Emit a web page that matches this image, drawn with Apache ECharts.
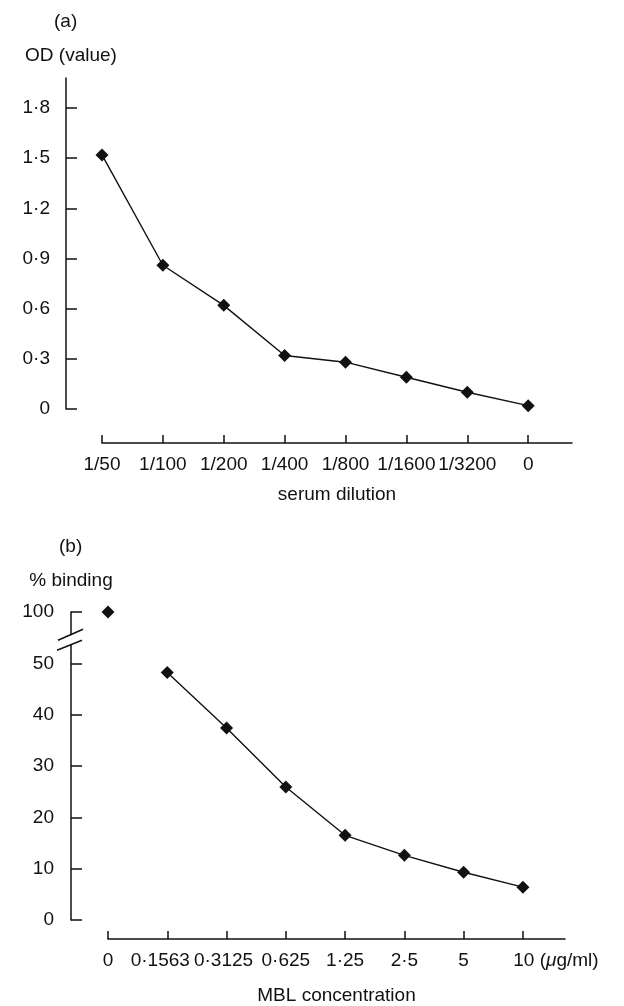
<!DOCTYPE html>
<html>
<head>
    <meta charset="UTF-8">
    <title>OD / % binding</title>
    <script src="https://cdn.jsdelivr.net/npm/echarts@6/dist/echarts.min.js"></script>
    <style>
        html, body {
            margin: 0;
            padding: 0;
            background: #fff;
        }

        #chartContainer {
            width: 624px;
            height: 1006px;
        }
    </style>
</head>
<body>
<div id="chartContainer"></div>
<script>
    // (a) OD against serum dilution
    var dilutionLabels = ['1/50', '1/100', '1/200', '1/400', '1/800', '1/1600', '1/3200', '0'];
    var odValues = [1.52, 0.86, 0.62, 0.32, 0.28, 0.19, 0.10, 0.02];
    var odTicks = [0, 0.3, 0.6, 0.9, 1.2, 1.5, 1.8];

    // (b) % binding against MBL concentration
    var mblLabels = ['0', '0·1563', '0·3125', '0·625', '1·25', '2·5', '5', '10'];
    var bindingControl = 100;          // at MBL 0, drawn above the axis break
    var bindingValues = [48.2, 37.4, 25.9, 16.5, 12.6, 9.3, 6.4];   // MBL 0·1563 .. 10
    var bindingTicks = [0, 10, 20, 30, 40, 50, 100];

    var FONT = 'Liberation Sans, Arial, sans-serif';
    var INK = '#111';
    var yOffsetA = 36, yOffsetB = 37;

    // values above the break (50..100) are moved down by 40 on the axis
    function toAxis(v) {
        return v > 50 ? v - 40 : v;
    }
    function fromAxis(v) {
        return v > 50 ? v + 40 : v;
    }
    function dot(v) {
        return String(v).replace('.', '·');
    }
    function idx(n) {
        var a = [];
        for (var i = 0; i < n; i++) a.push(i);
        return a;
    }

    var labelStyle = {color: INK, fontFamily: FONT, fontSize: 19};
    var txt = {color: INK, fontSize: 19, fontFamily: FONT};

    var myChart = echarts.init(document.getElementById('chartContainer'));
    var option = {
        animation: false,
        backgroundColor: '#fff',
        title: [
            {text: '(a)', left: 54, top: 12, padding: 0, textStyle: {color: INK, fontFamily: FONT, fontSize: 19, fontWeight: 'normal'}},
            {text: '(b)', left: 59, top: 537, padding: 0, textStyle: {color: INK, fontFamily: FONT, fontSize: 19, fontWeight: 'normal'}}
        ],
        grid: [
            {left: 102, right: 52, top: 78, bottom: 597},
            {left: 108, right: 59, top: 612, bottom: 84}
        ],
        xAxis: [
            {
                gridIndex: 0,
                type: 'value',
                min: 0,
                max: 7.72,
                offset: 34,
                name: 'serum dilution',
                nameLocation: 'middle',
                nameGap: 42,
                nameTextStyle: labelStyle,
                axisLine: {onZero: false, lineStyle: {color: INK, width: 1.5}},
                axisTick: {inside: true, length: 8, customValues: idx(dilutionLabels.length), lineStyle: {color: INK, width: 1.5}},
                axisLabel: {
                    customValues: idx(dilutionLabels.length),
                    margin: 12,
                    color: INK, fontFamily: FONT, fontSize: 19,
                    formatter: function (v) { return dilutionLabels[Math.round(v)]; }
                },
                splitLine: {show: false}
            },
            {
                gridIndex: 1,
                type: 'value',
                min: 0,
                max: 7.71,
                offset: 19,
                name: 'MBL concentration',
                nameLocation: 'middle',
                nameGap: 47,
                nameTextStyle: labelStyle,
                axisLine: {onZero: false, lineStyle: {color: INK, width: 1.5}},
                axisTick: {inside: true, length: 8, customValues: idx(mblLabels.length), lineStyle: {color: INK, width: 1.5}},
                axisLabel: {
                    customValues: idx(mblLabels.length),
                    margin: 12,
                    color: INK, fontFamily: FONT, fontSize: 19,
                    formatter: function (v) {
                        var i = Math.round(v);
                        if (i === mblLabels.length - 1) {
                            return '{pad| }{n|' + mblLabels[i] + '}{u| (}{mu|μ}{u|g/ml)}';
                        }
                        if (i === 1) return '{l1|' + mblLabels[i] + '}';
                        if (i === 2) return '{l2|' + mblLabels[i] + '}';
                        return mblLabels[i];
                    },
                    rich: {
                        pad: {width: 66, fontSize: 19, fontFamily: FONT},
                        n: txt,
                        u: txt,
                        mu: {color: INK, fontSize: 19, fontFamily: FONT, fontStyle: 'italic'},
                        l1: {color: INK, fontSize: 19, fontFamily: FONT, padding: [0, 14, 0, 0]},
                        l2: {color: INK, fontSize: 19, fontFamily: FONT, padding: [0, 6, 0, 0]}
                    }
                },
                splitLine: {show: false}
            }
        ],
        yAxis: [
            {
                gridIndex: 0,
                type: 'value',
                min: 0,
                max: 1.98,
                offset: yOffsetA,
                name: 'OD (value)',
                nameLocation: 'end',
                nameGap: 13,
                nameTextStyle: {color: INK, fontFamily: FONT, fontSize: 19, padding: [0, 0, 0, 10]},
                axisLine: {onZero: false, lineStyle: {color: INK, width: 1.5}},
                axisTick: {inside: true, length: 11, customValues: odTicks, lineStyle: {color: INK, width: 1.5}},
                axisLabel: {
                    customValues: odTicks,
                    margin: 16,
                    color: INK, fontFamily: FONT, fontSize: 19,
                    formatter: function (v) { return v === 0 ? '0' : dot(v.toFixed(1)); }
                },
                splitLine: {show: false}
            },
            {
                gridIndex: 1,
                type: 'value',
                min: 0,
                max: toAxis(100),
                offset: yOffsetB,
                name: '% binding',
                nameLocation: 'end',
                nameGap: 22,
                nameTextStyle: labelStyle,
                axisLine: {onZero: false, lineStyle: {color: INK, width: 1.5}},
                axisTick: {inside: true, length: 11, customValues: bindingTicks.map(toAxis), lineStyle: {color: INK, width: 1.5}},
                axisLabel: {
                    customValues: bindingTicks.map(toAxis),
                    margin: 17,
                    color: INK, fontFamily: FONT, fontSize: 19,
                    formatter: function (v) { return String(fromAxis(v)); }
                },
                splitLine: {show: false}
            }
        ],
        series: [
            {
                type: 'line',
                xAxisIndex: 0,
                yAxisIndex: 0,
                data: odValues.map(function (v, i) { return [i, v]; }),
                symbol: 'diamond',
                symbolSize: 13,
                lineStyle: {color: INK, width: 1.4},
                itemStyle: {color: INK, opacity: 1}
            },
            {
                type: 'scatter',
                xAxisIndex: 1,
                yAxisIndex: 1,
                data: [[0, toAxis(bindingControl)]],
                symbol: 'diamond',
                symbolSize: 13,
                itemStyle: {color: INK, opacity: 1}
            },
            {
                type: 'line',
                xAxisIndex: 1,
                yAxisIndex: 1,
                data: bindingValues.map(function (v, i) { return [i + 1, v]; }),
                symbol: 'diamond',
                symbolSize: 13,
                lineStyle: {color: INK, width: 1.4},
                itemStyle: {color: INK, opacity: 1}
            }
        ]
    };
    myChart.setOption(option);

    // axis break marks on the % binding axis
    var p = myChart.convertToPixel({gridIndex: 1}, [0, 54.5]);
    var ax = p[0] - yOffsetB, yc = p[1];
    myChart.setOption({
        graphic: [
            {type: 'rect', shape: {x: ax - 4, y: yc - 5, width: 8, height: 9}, style: {fill: '#fff'}, z: 100},
            {type: 'line', shape: {x1: ax - 13, y1: yc, x2: ax + 12, y2: yc - 11}, style: {stroke: INK, lineWidth: 1.5}, z: 101},
            {type: 'line', shape: {x1: ax - 14, y1: yc + 10, x2: ax + 11, y2: yc}, style: {stroke: INK, lineWidth: 1.5}, z: 101}
        ]
    });
</script>
</body>
</html>
